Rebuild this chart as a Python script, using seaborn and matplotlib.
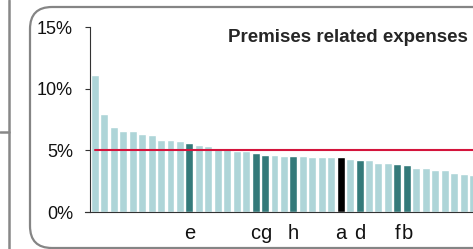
import matplotlib.pyplot as plt
import seaborn as sns
import pandas as pd
from matplotlib.patches import FancyBboxPatch
from matplotlib.lines import Line2D
from matplotlib.transforms import IdentityTransform, ScaledTranslation

sns.set_style('white')
plt.rcParams['font.family'] = ['Liberation Sans', 'DejaVu Sans']

values = [11.1, 7.94, 6.91, 6.54, 6.54, 6.35, 6.21, 5.83, 5.83, 5.75,
          5.56, 5.43, 5.37, 5.10, 5.08, 4.97, 4.96, 4.75, 4.66, 4.60,
          4.55, 4.52, 4.52, 4.49, 4.48, 4.48, 4.46, 4.30, 4.24, 4.21,
          4.00, 4.00, 3.92, 3.81, 3.59, 3.56, 3.43, 3.38, 3.19, 3.08, 2.97]
tick_labels = [''] * len(values)
for pos, name in [(10, 'e'), (17, 'c'), (18, 'g'), (21, 'h'), (26, 'a'),
                  (28, 'd'), (32, 'f'), (33, 'b')]:
    tick_labels[pos] = name
focus = 'a'
benchmark = 5

groups = ['focus' if t == focus else ('peer' if t else 'other') for t in tick_labels]
df = pd.DataFrame({'pos': range(len(values)), 'value': values, 'group': groups})
palette = {'other': '#aed5d8', 'peer': '#347a7a', 'focus': '#000000'}

W, H = 473, 249
fig = plt.figure(figsize=(W / 100, H / 100), dpi=100)

# rounded panel border and the neighbouring panel edge
box = FancyBboxPatch((30, 1), 520, 241, boxstyle='round,pad=0,rounding_size=22',
                     transform=IdentityTransform(), fill=False,
                     edgecolor='#858585', linewidth=1.6)
fig.add_artist(box)
fig.add_artist(Line2D([8.5, 8.5], [0, H], transform=IdentityTransform(),
                      color='#888888', linewidth=1.8))
fig.add_artist(Line2D([0, 8.5], [H - 132, H - 132], transform=IdentityTransform(),
                      color='#888888', linewidth=1.8))

ax = fig.add_axes([85 / W, 37 / H, (W - 85) / W, 185 / H])
ax.patch.set_alpha(0)
sns.barplot(data=df, x='pos', y='value', hue='group', palette=palette,
            dodge=False, width=0.84, legend=False, saturation=1, ax=ax)

ax.plot([0, len(values)], [benchmark, benchmark], color='#d4143c', linewidth=1.5)

ax.set_xlim(-1.045, 39.5)
ax.set_ylim(0, 15)
ax.set_yticks([0, 5, 10, 15])
ax.set_yticklabels(['0%', '5%', '10%', '15%'])
ax.set_xticks(range(len(values)))
ax.set_xticklabels(tick_labels)
ax.tick_params(axis='y', length=3.6, width=0.8, pad=8.6, color='#333333',
               left=True, labelsize=13, labelcolor='#111111')
ax.tick_params(axis='x', length=0, pad=8.6, labelsize=14.5, labelcolor='#111111')
# neighbouring labels c and g sit edge to edge; nudge them apart a touch
for lab in ax.get_xticklabels():
    shift = {'c': -0.8, 'g': 0.8}.get(lab.get_text(), 0)
    if shift:
        lab.set_transform(lab.get_transform() + ScaledTranslation(shift / 100, 0, fig.dpi_scale_trans))
ax.set_xlabel('')
ax.set_ylabel('')
for s in ['top', 'right']:
    ax.spines[s].set_visible(False)
for s in ['left', 'bottom']:
    ax.spines[s].set_color('#333333')
    ax.spines[s].set_linewidth(0.8)
ax.spines['left'].set_position(('data', -0.52))

fig.text(468 / W, 1 - 37 / H, 'Premises related expenses', ha='right', va='center',
         fontsize=13.5, fontweight='bold')

fig.savefig('out.png', dpi=100)
